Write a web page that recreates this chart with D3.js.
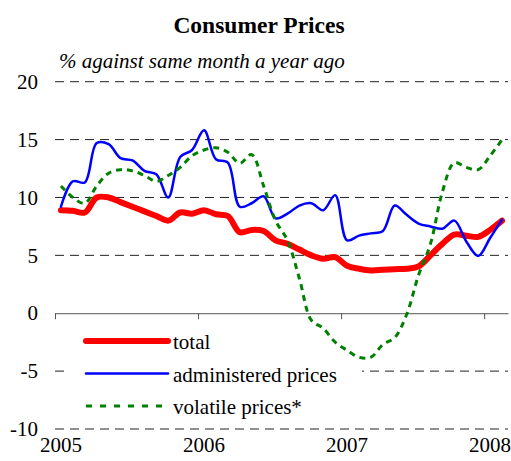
<!DOCTYPE html>
<html>
<head>
<meta charset="utf-8">
<script src="https://cdn.jsdelivr.net/npm/d3@7"></script>
<style>
body { margin:0; background:white; }
svg { font-family: "Liberation Serif", "Times New Roman", serif; }
</style>
</head>
<body>
<svg width="511" height="461"></svg>
<script>
// monthly values, jan 2005 .. feb 2008
var total = [8.9,8.85,8.7,10.0,10.0,9.6,9.2,8.8,8.4,8.0,8.7,8.6,
             8.9,8.55,8.4,7.0,7.2,7.1,6.3,6.0,5.5,5.0,4.7,4.85,
             4.1,3.85,3.7,3.75,3.8,3.85,4.05,5.0,6.0,6.8,6.7,6.6,
             7.2,8.0]
var administered = [9.2,11.4,11.3,14.7,14.6,13.4,13.2,12.3,12.0,10.0,13.5,14.1,
                    15.8,13.3,13.0,9.2,9.5,10.1,8.2,8.6,9.3,9.5,8.9,10.2,
                    6.3,6.7,6.9,7.1,9.3,8.5,7.75,7.5,7.3,8.0,6.2,4.95,
                    6.5,8.1]
var volatile = [11.0,10.0,9.5,11.0,12.1,12.4,12.3,11.9,11.4,11.9,12.6,13.6,
                14.1,14.3,13.9,12.95,13.7,11.0,8.0,6.3,3.0,-0.6,-1.3,-2.5,
                -3.2,-3.8,-3.8,-2.7,-2.1,-0.1,3.3,6.0,10.5,13.0,12.6,12.4,
                13.6,15.0]
var years = ["2005","2006","2007","2008"]
var yTicks = [-10,-5,0,5,10,15,20]
var seriesNames = ["total","administered prices","volatile prices*"]

var svg = d3.select("svg")

var xScale = d3.scaleLinear()
    .domain([0,38])
    .range([55,508])
var yScale = d3.scaleLinear()
    .domain([-10,20])
    .range([429,81.7])

//title
svg.append("text")
    .attr("x",259)
    .attr("y",33)
    .attr("text-anchor","middle")
    .style("font-weight","bold")
    .style("font-size","23.5px")
    .text("Consumer Prices")
svg.append("text")
    .attr("x",59)
    .attr("y",68)
    .style("font-style","italic")
    .style("font-size","21px")
    .text("% against same month a year ago")

//gridlines (0 is the axis)
svg.append("g")
    .selectAll("line")
    .data(yTicks.filter(function(d){return d!=0}))
    .enter()
    .append("line")
    .attr("x1",xScale(0))
    .attr("x2",xScale(38))
    .attr("y1",function(d){return yScale(d)})
    .attr("y2",function(d){return yScale(d)})
    .style("stroke","#222")
    .style("stroke-width",1)
    .style("stroke-dasharray","9,6")

//y labels, plain hyphen for negatives
var yAxis = d3.axisLeft(yScale)
    .tickValues(yTicks)
    .tickFormat(function(d){return String(d)})
    .tickSize(0)
    .tickPadding(0)
svg.append("g")
    .attr("transform","translate(38,0)")
    .call(yAxis)
    .call(function(g){g.select(".domain").remove()})
    .selectAll("text")
    .style("font-family","Liberation Serif")
    .style("font-size","21px")
    .attr("fill","black")

//x axis at zero
var xAxis = d3.axisBottom(xScale)
    .tickValues([0,12,24,36])
    .tickFormat("")
    .tickSize(6)
    .tickSizeOuter(0)
svg.append("g")
    .attr("transform","translate(0,"+yScale(0)+")")
    .call(xAxis)
    .call(function(g){
        g.selectAll("line,path").attr("stroke","#555")
    })

svg.append("g")
    .selectAll("text")
    .data(years)
    .enter()
    .append("text")
    .attr("x",function(d,i){return xScale(i*12+0.5)})
    .attr("y",452)
    .attr("text-anchor","middle")
    .style("font-size","21px")
    .text(function(d){return d})

//legend background goes under the lines
svg.append("rect")
    .attr("x",64)
    .attr("y",322)
    .attr("width",298)
    .attr("height",98)
    .attr("fill","white")

var makeLine = d3.line()
    .x(function(d,i){return xScale(i+0.5)})
    .y(function(d){return yScale(d)})
    .curve(d3.curveCatmullRom)

var styles = [
    {data:total, color:"#ff0000", width:6, dash:null},
    {data:administered, color:"#0000ff", width:2.5, dash:null},
    {data:volatile, color:"#008000", width:3, dash:"6,5"}
]

styles.forEach(function(s){
    svg.append("path")
        .attr("d",makeLine(s.data))
        .attr("fill","none")
        .attr("stroke",s.color)
        .attr("stroke-width",s.width)
        .attr("stroke-linecap",s.dash ? "butt" : "round")
        .attr("stroke-linejoin","round")
        .attr("stroke-dasharray",s.dash)
})

//legend
var legend = svg.append("g")
    .attr("transform","translate(86,341)")
var entries = legend.selectAll("g")
    .data(seriesNames)
    .enter()
    .append("g")
    .attr("transform",function(d,i){return "translate(0,"+i*32.5+")"})
entries.append("line")
    .attr("x1",0)
    .attr("x2",82)
    .attr("stroke",function(d,i){return styles[i].color})
    .attr("stroke-width",function(d,i){return styles[i].width})
    .attr("stroke-linecap",function(d,i){return i==2 ? "butt" : "round"})
    .attr("stroke-dasharray",function(d,i){return i==2 ? "6,8" : null})
entries.append("text")
    .attr("x",87)
    .attr("y",8)
    .style("font-size","21px")
    .text(function(d){return d})
</script>
</body>
</html>
